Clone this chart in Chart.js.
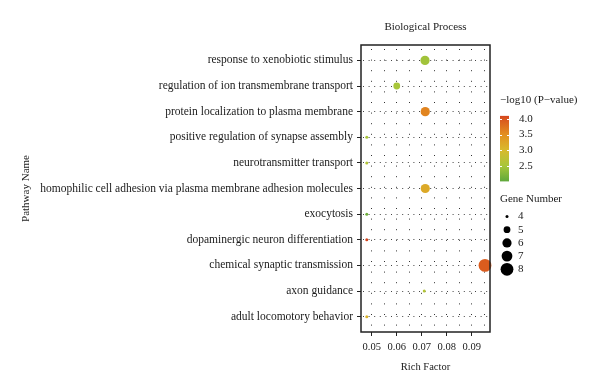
<!DOCTYPE html>
<html lang="en">
<head>
<meta charset="UTF-8">
<title>Biological Process</title>
<script src="https://cdn.jsdelivr.net/npm/chart.js@4.4.1/dist/chart.umd.min.js"></script>
<style>
  body { margin: 0; background: #fff; }
</style>
</head>
<body>
<canvas id="chart" width="600" height="392"></canvas>
<script>
    // pathways from top to bottom
    const pathways = [
        'response to xenobiotic stimulus',
        'regulation of ion transmembrane transport',
        'protein localization to plasma membrane',
        'positive regulation of synapse assembly',
        'neurotransmitter transport',
        'homophilic cell adhesion via plasma membrane adhesion molecules',
        'exocytosis',
        'dopaminergic neuron differentiation',
        'chemical synaptic transmission',
        'axon guidance',
        'adult locomotory behavior'
    ];
    const richFactor = [0.0713, 0.0600, 0.0714, 0.0480, 0.0480, 0.0714, 0.0480, 0.0480, 0.0953, 0.0710, 0.0480];
    const geneNumber = [6, 5, 6, 4, 4, 6, 4, 4, 8, 4, 4];
    const logP = [2.45, 2.5, 3.6, 2.5, 2.6, 3.2, 2.1, 4.1, 3.95, 2.6, 3.1];

    const colorTicks = [4.0, 3.5, 3.0, 2.5];
    const sizeLegend = [4, 5, 6, 7, 8];
    const xTicks = [0.05, 0.06, 0.07, 0.08, 0.09];

    const FONT = '"Liberation Serif", "DejaVu Serif", serif';
    const TEXT = '#1a1a1a';
    const radiusFor = { 4: 1.5, 5: 3.4, 6: 4.6, 7: 5.4, 8: 6.4 };

    const stops = [
        [2.0, [95, 168, 60]],
        [2.5, [168, 198, 58]],
        [3.0, [216, 186, 44]],
        [3.5, [227, 144, 31]],
        [4.0, [217, 86, 30]],
        [4.1, [212, 68, 30]]
    ];
    function colorFor(v) {
        if (v <= stops[0][0]) return 'rgb(' + stops[0][1].join(',') + ')';
        for (let i = 1; i < stops.length; i++) {
            if (v <= stops[i][0]) {
                const t = (v - stops[i - 1][0]) / (stops[i][0] - stops[i - 1][0]);
                const a = stops[i - 1][1], b = stops[i][1];
                const c = a.map((x, k) => Math.round(x + (b[k] - x) * t));
                return 'rgb(' + c.join(',') + ')';
            }
        }
        return 'rgb(' + stops[stops.length - 1][1].join(',') + ')';
    }

    const points = pathways.map((p, i) => ({ x: richFactor[i], y: i, r: radiusFor[geneNumber[i]] }));

    const isMajor = v => Math.abs(v * 100 - Math.round(v * 100)) < 1e-6;

    const decorations = {
        id: 'decorations',
        afterDraw(chart) {
            const ctx = chart.ctx;
            const a = chart.chartArea;
            ctx.save();
            // panel frame
            ctx.strokeStyle = '#222';
            ctx.lineWidth = 1.5;
            ctx.strokeRect(a.left, a.top, a.right - a.left, a.bottom - a.top);

            ctx.fillStyle = TEXT;
            ctx.textBaseline = 'middle';
            ctx.font = '11px ' + FONT;
            ctx.textAlign = 'center';
            ctx.fillText('Biological Process', (a.left + a.right) / 2, 27);

            // colour bar legend
            ctx.textAlign = 'left';
            ctx.font = '11px ' + FONT;
            ctx.fillText('\u2212log10 (P\u2212value)', 500, 100);
            const yOf = v => 119 + (4.0 - v) * 31.2;
            const top = yOf(4.1), bot = yOf(2.0);
            const grad = ctx.createLinearGradient(0, top, 0, bot);
            stops.slice().reverse().forEach(s => {
                grad.addColorStop((yOf(s[0]) - top) / (bot - top), colorFor(s[0]));
            });
            ctx.fillStyle = grad;
            ctx.fillRect(500, top, 9, bot - top);
            ctx.strokeStyle = '#fff';
            ctx.lineWidth = 1;
            colorTicks.forEach(v => {
                const y = Math.round(yOf(v)) + 0.5;
                ctx.beginPath();
                ctx.moveTo(500, y); ctx.lineTo(502, y);
                ctx.moveTo(507, y); ctx.lineTo(509, y);
                ctx.stroke();
                ctx.fillStyle = TEXT;
                ctx.fillText(v.toFixed(1), 519, yOf(v));
            });

            // size legend
            ctx.fillStyle = TEXT;
            ctx.fillText('Gene Number', 500, 199);
            sizeLegend.forEach((g, i) => {
                const y = 216.5 + i * 13.2;
                ctx.fillStyle = '#000';
                ctx.beginPath();
                ctx.arc(507, y, radiusFor[g], 0, Math.PI * 2);
                ctx.fill();
                ctx.fillStyle = TEXT;
                ctx.fillText(String(g), 518, y);
            });
            ctx.restore();
        }
    };

    const ctx = document.getElementById('chart').getContext('2d');
    new Chart(ctx, {
        type: 'bubble',
        data: {
            datasets: [{
                data: points,
                backgroundColor: logP.map(colorFor),
                borderWidth: 0,
                hoverBorderWidth: 0,
                clip: false
            }]
        },
        options: {
            responsive: false,
            animation: false,
            layout: { padding: { left: 0, right: 110, top: 45, bottom: 0 } },
            plugins: {
                legend: { display: false },
                tooltip: { enabled: false }
            },
            scales: {
                x: {
                    type: 'linear',
                    min: 0.0457,
                    max: 0.0973,
                    afterFit: s => { s.height = 60; },
                    ticks: {
                        stepSize: 0.005,
                        includeBounds: false,
                        autoSkip: false,
                        maxRotation: 0,
                        padding: 5,
                        color: TEXT,
                        font: { family: FONT, size: 10.5 },
                        callback: v => (xTicks.some(t => Math.abs(t - v) < 1e-6) ? v.toFixed(2) : '')
                    },
                    grid: {
                        color: '#333',
                        lineWidth: 1,
                        tickLength: 4,
                        tickColor: c => (c.tick && isMajor(c.tick.value) ? '#222' : 'rgba(0,0,0,0)')
                    },
                    border: { display: false, dash: [1, 9.6], dashOffset: -4 },
                    title: {
                        display: true,
                        text: 'Rich Factor',
                        color: TEXT,
                        font: { family: FONT, size: 10.5 },
                        padding: { top: 0, bottom: 18 }
                    }
                },
                y: {
                    type: 'linear',
                    reverse: true,
                    min: -0.6,
                    max: 10.6,
                    afterFit: s => { s.width = 361; },
                    ticks: {
                        stepSize: 1,
                        includeBounds: false,
                        autoSkip: false,
                        padding: 4,
                        color: TEXT,
                        font: { family: FONT, size: 11.5 },
                        callback: v => (Number.isInteger(v) && pathways[v] !== undefined ? pathways[v] : '')
                    },
                    grid: {
                        color: '#444',
                        lineWidth: 1,
                        tickLength: 4,
                        tickColor: '#222'
                    },
                    border: { display: false, dash: [1, 4.6], dashOffset: -2 },
                    title: {
                        display: true,
                        text: 'Pathway Name',
                        color: TEXT,
                        font: { family: FONT, size: 11 },
                        padding: { top: 20, bottom: 0 }
                    }
                }
            }
        },
        plugins: [decorations]
    });
</script>
</body>
</html>
